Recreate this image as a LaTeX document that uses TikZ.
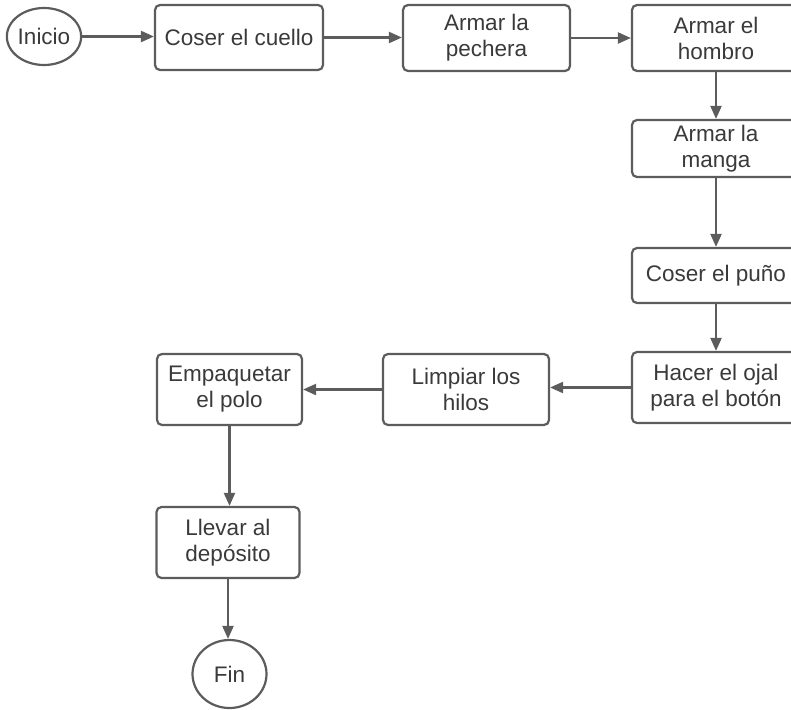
\documentclass[tikz,border=0pt]{standalone}
\usepackage{fontspec}
\setmainfont{Liberation Sans}
\usetikzlibrary{arrows.meta,shapes.geometric}
\definecolor{linec}{HTML}{5C5C5C}
\definecolor{textc}{HTML}{3A3A3A}
\tikzset{
  box/.style={draw=linec, line width=2.2pt, rounded corners=5pt, fill=white,
    text=textc, align=center, inner sep=0pt,
    font=\fontsize{22.5}{26}\selectfont},
  term/.style={ellipse, draw=linec, line width=2.2pt, fill=white, text=textc,
    inner sep=0pt, font=\fontsize{22.5}{26}\selectfont},
  conn/.style={draw=linec, line width=2.2pt, -{Triangle[length=13pt,width=11pt]}}
}
\begin{document}
\begin{tikzpicture}[x=1pt,y=-1pt]
\useasboundingbox (0,0) rectangle (791,709);
\begin{scope}
\clip (0,0) rectangle (791,709);
\node[term, minimum width=62pt, minimum height=57pt] (inicio) at (44,36.5) {Inicio};
\node[box, minimum width=168pt, minimum height=65pt] (cuello) at (239,37.5) {Coser el cuello};
\node[box, minimum width=167pt, minimum height=66pt] (pechera) at (486.5,38) {Armar la\\pechera};
\node[box, minimum width=168pt, minimum height=66pt] (hombro) at (716,38) {Armar el\\hombro};
\node[box, minimum width=168pt, minimum height=57pt] (manga) at (716,148.5) {Armar la\\manga};
\node[box, minimum width=168pt, minimum height=55pt] (puno) at (716,275.5) {Coser el puño};
\node[box, minimum width=168pt, minimum height=71pt] (ojal) at (716,387.5) {Hacer el ojal\\para el botón};
\node[box, minimum width=166pt, minimum height=71pt] (limpiar) at (466,389.5) {Limpiar los\\hilos};
\node[box, minimum width=145pt, minimum height=71pt] (empaq) at (229.5,389.5) {Empaquetar\\el polo};
\node[box, minimum width=143pt, minimum height=71pt] (llevar) at (228,542.5) {Llevar al\\depósito};
\node[term, minimum width=74pt, minimum height=68pt] (fin) at (229.5,674) {Fin};

\draw[conn] (inicio.east) -- (inicio.east -| cuello.west);
\draw[conn] (cuello.east) -- (cuello.east -| pechera.west);
\draw[conn] (pechera.east) -- (pechera.east -| hombro.west);
\draw[conn] (hombro.south) -- (manga.north);
\draw[conn] (manga.south) -- (puno.north);
\draw[conn] (puno.south) -- (ojal.north);
\draw[conn] (ojal.west) -- (ojal.west -| limpiar.east);
\draw[conn] (limpiar.west) -- (limpiar.west -| empaq.east);
\draw[conn] (empaq.south) -- (empaq.south |- llevar.north);
\draw[conn] (llevar.south) -- (llevar.south |- fin.north);
\end{scope}
\end{tikzpicture}
\end{document}
